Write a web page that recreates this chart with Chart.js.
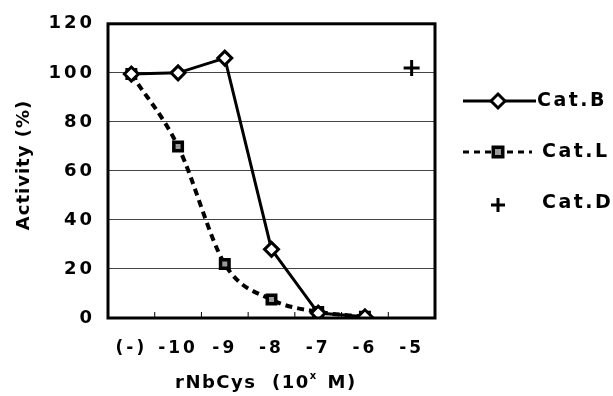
<!DOCTYPE html>
<html>
<head>
<meta charset="utf-8">
<script src="https://cdn.jsdelivr.net/npm/chart.js@4.4.1/dist/chart.umd.min.js"></script>
<style>
  html, body { margin: 0; padding: 0; background: #fff; }
  #wrap { width: 613px; height: 396px; position: relative; }
</style>
</head>
<body>
<div id="wrap"><canvas id="activityChart"></canvas></div>
<script>
// concentration of rNbCys, log10 molar
var categories = ['(-)', '-10', '-9', '-8', '-7', '-6', '-5'];
var catB = [99.5, 100, 106, 28, 2, 0.5, null];
var catL = [99.5, 70, 22, 7.5, 2.5, 0.5, null];
var catD = [null, null, null, null, null, null, 102];
var yTicks = [0, 20, 40, 60, 80, 100, 120];

var FONT = '"DejaVu Sans", "Liberation Sans", Arial, sans-serif';

// frame, inner tick marks, titles and the side legend
var decorPlugin = {
    id: 'decor',
    beforeDraw: function (chart) {
        chart.ctx.letterSpacing = '3px';
    },
    afterDatasetsDraw: function (chart) {
        var ctx = chart.ctx;
        var a = chart.chartArea;
        var xs = chart.scales.x;
        ctx.save();
        ctx.letterSpacing = '0px';
        ctx.strokeStyle = '#000';
        // small ticks pointing up between categories
        ctx.lineWidth = 1;
        for (var i = 1; i < categories.length; i++) {
            var px = (xs.getPixelForTick(i - 1) + xs.getPixelForTick(i)) / 2;
            ctx.beginPath();
            ctx.moveTo(px, a.bottom);
            ctx.lineTo(px, a.bottom - 6);
            ctx.stroke();
        }
        ctx.lineWidth = 3;
        ctx.strokeRect(a.left, a.top, a.right - a.left, a.bottom - a.top);

        // y title
        ctx.fillStyle = '#000';
        ctx.font = 'bold 18px ' + FONT;
        ctx.letterSpacing = '1px';
        ctx.save();
        ctx.translate(24, 165);
        ctx.rotate(-Math.PI / 2);
        ctx.textAlign = 'center';
        ctx.textBaseline = 'middle';
        ctx.fillText('Activity (%)', 0, 0);
        ctx.restore();

        // x title with superscript
        ctx.textBaseline = 'alphabetic';
        ctx.textAlign = 'left';
        ctx.letterSpacing = '1.5px';
        var tx = 175, ty = 388;
        ctx.font = 'bold 18px ' + FONT;
        var s1 = 'rNbCys  (10';
        ctx.fillText(s1, tx, ty);
        tx += ctx.measureText(s1).width;
        ctx.font = 'bold 10px ' + FONT;
        ctx.fillText('x', tx, ty - 9);
        tx += ctx.measureText('x').width + 2;
        ctx.font = 'bold 18px ' + FONT;
        ctx.fillText(' M)', tx, ty);

        // legend
        var lx0 = 463, lx1 = 536, mx = 498;
        var rows = [101, 152, 203];
        ctx.font = 'bold 19px ' + FONT;
        ctx.letterSpacing = '2.5px';
        ctx.textBaseline = 'middle';
        ctx.fillText('Cat.B', 537, rows[0]);
        ctx.fillText('Cat.L', 542, rows[1]);
        ctx.fillText('Cat.D', 542, rows[2]);

        ctx.lineWidth = 3;
        ctx.beginPath();
        ctx.moveTo(lx0, rows[0]);
        ctx.lineTo(lx1, rows[0]);
        ctx.stroke();
        drawDiamond(ctx, mx, rows[0], 7);

        ctx.setLineDash([6, 5]);
        ctx.beginPath();
        ctx.moveTo(lx0, rows[1]);
        ctx.lineTo(lx1 - 4, rows[1]);
        ctx.stroke();
        ctx.setLineDash([]);
        drawSquare(ctx, mx, rows[1], 5);

        ctx.lineWidth = 3;
        ctx.beginPath();
        ctx.moveTo(mx - 7, rows[2] + 2);
        ctx.lineTo(mx + 7, rows[2] + 2);
        ctx.moveTo(mx, rows[2] - 5);
        ctx.lineTo(mx, rows[2] + 9);
        ctx.stroke();
        ctx.restore();
    },
    afterDraw: function (chart) {
        chart.ctx.letterSpacing = '0px';
    }
};

function drawDiamond(ctx, x, y, r) {
    ctx.beginPath();
    ctx.moveTo(x, y - r);
    ctx.lineTo(x + r, y);
    ctx.lineTo(x, y + r);
    ctx.lineTo(x - r, y);
    ctx.closePath();
    ctx.fillStyle = '#fff';
    ctx.fill();
    ctx.lineWidth = 3;
    ctx.stroke();
    ctx.fillStyle = '#000';
}

function drawSquare(ctx, x, y, r) {
    ctx.fillStyle = '#000';
    ctx.fillRect(x - r - 1.5, y - r - 1.5, 2 * r + 3, 2 * r + 3);
    ctx.fillStyle = '#999';
    ctx.fillRect(x - r + 2, y - r + 2, 2 * r - 4, 2 * r - 4);
    ctx.fillStyle = '#000';
}

var ctx = document.getElementById('activityChart').getContext('2d');
var chart = new Chart(ctx, {
    type: 'line',
    data: {
        labels: categories,
        datasets: [{
            label: 'Cat.B',
            data: catB,
            borderColor: '#000',
            borderWidth: 3,
            tension: 0,
            pointStyle: 'rectRot',
            pointRadius: 7,
            pointBorderWidth: 3,
            pointBackgroundColor: '#fff',
            pointBorderColor: '#000',
            spanGaps: false
        }, {
            label: 'Cat.L',
            data: catL,
            borderColor: '#000',
            borderWidth: 4,
            borderDash: [7, 5],
            cubicInterpolationMode: 'monotone',
            pointStyle: 'rect',
            pointRadius: 6,
            pointBorderWidth: 3.5,
            pointBackgroundColor: '#999',
            pointBorderColor: '#000'
        }, {
            label: 'Cat.D',
            data: catD,
            showLine: false,
            pointStyle: 'cross',
            pointRadius: 8,
            pointBorderWidth: 3,
            pointBorderColor: '#000'
        }]
    },
    options: {
        responsive: true,
        maintainAspectRatio: false,
        animation: false,
        layout: { padding: { top: 19, right: 178, bottom: 0, left: 0 } },
        plugins: {
            legend: { display: false },
            tooltip: { enabled: false }
        },
        scales: {
            x: {
                offset: true,
                grid: { display: false, offset: true },
                border: { display: false },
                ticks: {
                    color: '#000',
                    font: { family: FONT, size: 17, weight: 'bold' },
                    padding: 12,
                    maxRotation: 0
                },
                afterFit: function (s) { s.height = 78; }
            },
            y: {
                min: 0,
                max: 120,
                afterBuildTicks: function (s) {
                    s.ticks = yTicks.map(function (v) { return { value: v }; });
                },
                grid: { color: '#444', lineWidth: 1, drawTicks: false },
                border: { display: false },
                ticks: {
                    color: '#000',
                    font: { family: FONT, size: 18, weight: 'bold' },
                    padding: 13
                },
                afterFit: function (s) { s.width = 108; }
            }
        }
    },
    plugins: [decorPlugin]
});
</script>
</body>
</html>
